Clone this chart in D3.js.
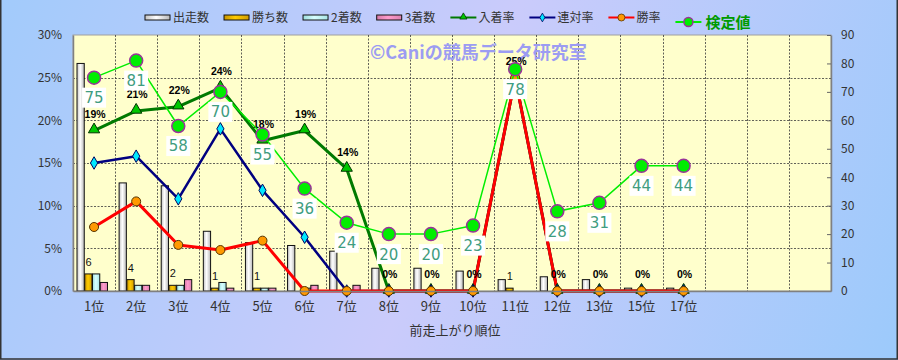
<!DOCTYPE html>
<html>
<head>
<meta charset="utf-8">
<script src="https://cdn.jsdelivr.net/npm/d3@7"></script>
<style>
body { margin: 0; }
svg { display: block; font-family: "Noto Sans CJK JP", sans-serif; }
</style>
</head>
<body>
<svg id="chart" width="898" height="360"></svg>
<script>
// data
const categories = ["1位", "2位", "3位", "4位", "5位", "6位", "7位", "8位", "9位", "10位", "11位", "12位", "13位", "15位", "17位"];
const starts  = [80, 38, 37, 21, 17, 16, 14, 8, 8, 7, 4, 5, 4, 1, 1];
const wins    = [6, 4, 2, 1, 1, 0, 0, 0, 0, 0, 1, 0, 0, 0, 0];
const seconds = [6, 2, 2, 3, 1, 1, 0, 0, 0, 0, 0, 0, 0, 0, 0];
const thirds  = [3, 2, 4, 1, 1, 2, 2, 0, 0, 0, 0, 0, 0, 0, 0];
const placeRate = [18.8, 21.1, 21.6, 23.8, 17.6, 18.8, 14.3, 0, 0, 0, 25, 0, 0, 0, 0];
const top2Rate  = [15.0, 15.8, 10.8, 19.0, 11.8, 6.3, 0, 0, 0, 0, 25, 0, 0, 0, 0];
const winRate   = [7.5, 10.5, 5.4, 4.8, 5.9, 0, 0, 0, 0, 0, 25, 0, 0, 0, 0];
const testValue = [75, 81, 58, 70, 55, 36, 24, 20, 20, 23, 78, 28, 31, 44, 44];
const slots = 18;
const leftTicks = [0, 5, 10, 15, 20, 25, 30];
const rightTicks = [0, 10, 20, 30, 40, 50, 60, 70, 80, 90];

const svg = d3.select("#chart");
const W = 898, H = 360;
const plot = {x0: 73, x1: 831, y0: 35, y1: 291};

const defs = svg.append("defs");
let bg = defs.append("linearGradient").attr("id", "bg")
    .attr("gradientUnits", "userSpaceOnUse")
    .attr("x1", 0).attr("y1", 0).attr("x2", W).attr("y2", H);
bg.append("stop").attr("offset", "0").attr("stop-color", "#a2cbfb");
bg.append("stop").attr("offset", "0.5").attr("stop-color", "#cacbfb");
bg.append("stop").attr("offset", "1").attr("stop-color", "#9ccafb");

function barGrad(id, a, b, c) {
    let g = defs.append("linearGradient").attr("id", id)
        .attr("x1", 0).attr("y1", 0).attr("x2", 1).attr("y2", 0);
    g.append("stop").attr("offset", "0").attr("stop-color", a);
    g.append("stop").attr("offset", "0.45").attr("stop-color", b);
    g.append("stop").attr("offset", "1").attr("stop-color", c);
}
barGrad("gStart", "#c4c4c4", "#ffffff", "#b8b8b8");
barGrad("gWin", "#c89400", "#ffcc00", "#d09c00");
barGrad("gSecond", "#9cdcdc", "#d8ffff", "#a8e4e4");
barGrad("gThird", "#d67aa8", "#ff9ccc", "#dc80b0");

svg.append("rect").attr("width", W).attr("height", H).attr("fill", "url(#bg)");
// frame edges
svg.append("path").attr("d", `M0.75,0 V${H - 1} H${W - 0.75} V0`)
    .attr("fill", "none").attr("stroke", "#333").attr("stroke-width", 1.5);

// scales
let x = d3.scaleBand().domain(d3.range(slots)).range([plot.x0, plot.x1]);
let xs = d3.scaleBand().domain(["starts", "wins", "seconds", "thirds"]).range([4, 35]);
let yL = d3.scaleLinear().domain([0, 30]).range([plot.y1, plot.y0]);
let yR = d3.scaleLinear().domain([0, 90]).range([plot.y1, plot.y0]);
let cx = i => x(i) + x.bandwidth() / 2;

svg.append("rect").attr("x", plot.x0).attr("y", plot.y0)
    .attr("width", plot.x1 - plot.x0).attr("height", plot.y1 - plot.y0)
    .attr("fill", "#ffffcc").attr("stroke", "#a0a0a0");

// grid
let grid = svg.append("g").attr("stroke", "#3a3a3a").attr("stroke-dasharray", "2,1.5").attr("stroke-width", 0.8);
grid.selectAll("line.h").data(leftTicks.slice(1, -1)).enter().append("line")
    .attr("x1", plot.x0).attr("x2", plot.x1)
    .attr("y1", d => Math.round(yL(d)) + 0.5).attr("y2", d => Math.round(yL(d)) + 0.5);
grid.selectAll("line.v").data(d3.range(1, slots)).enter().append("line")
    .attr("x1", d => Math.round(x(d)) + 0.5).attr("x2", d => Math.round(x(d)) + 0.5)
    .attr("y1", plot.y0).attr("y2", plot.y1);

// watermark
svg.append("text").attr("x", 370).attr("y", 59)
    .attr("font-size", 18).attr("font-weight", "bold").attr("fill", "#9c9cf2")
    .text("©Caniの競馬データ研究室");

// bars (right axis scale)
let barSeries = [
    {key: "starts", vals: starts, fill: "url(#gStart)"},
    {key: "wins", vals: wins, fill: "url(#gWin)"},
    {key: "seconds", vals: seconds, fill: "url(#gSecond)"},
    {key: "thirds", vals: thirds, fill: "url(#gThird)"}
];
barSeries.forEach(function (s) {
    svg.append("g").selectAll("rect")
        .data(s.vals.map((v, i) => ({v: v, i: i})).filter(d => d.v > 0))
        .enter().append("rect")
        .attr("x", d => x(d.i) + xs(s.key))
        .attr("width", xs.bandwidth() - 0.5)
        .attr("y", d => yR(d.v))
        .attr("height", d => yR(0) - yR(d.v))
        .attr("fill", s.fill)
        .attr("stroke", "#111").attr("stroke-width", 1);
});

// win count labels
svg.append("g").selectAll("text")
    .data(wins.map((v, i) => ({v: v, i: i})).filter(d => d.v > 0))
    .enter().append("text")
    .attr("x", d => x(d.i) + xs("wins") + xs.bandwidth() / 2)
    .attr("y", d => yR(d.v) - 8)
    .attr("text-anchor", "middle").attr("font-size", 11).attr("fill", "#111")
    .attr("font-family", "Liberation Sans, sans-serif")
    .text(d => d.v);

// rate lines (left axis)
let rateSeries = [
    {vals: placeRate, color: "#007a00", width: 3, shape: "tri"},
    {vals: top2Rate, color: "#000080", width: 2.5, shape: "dia"},
    {vals: winRate, color: "#ff0000", width: 3, shape: "circ"}
];
let lineL = d3.line().x((d, i) => cx(i)).y(d => yL(d));
rateSeries.forEach(function (s) {
    svg.append("path").datum(s.vals).attr("d", lineL)
        .attr("fill", "none").attr("stroke", s.color).attr("stroke-width", s.width)
        .attr("stroke-linejoin", "round");
});
function marker(g, shape, px, py) {
    if (shape === "tri") {
        g.append("path").attr("d", d3.symbol(d3.symbolTriangle, 55)())
            .attr("transform", `translate(${px},${py - 1})`)
            .attr("fill", "#00c800").attr("stroke", "#003300").attr("stroke-width", 1);
    } else if (shape === "dia") {
        g.append("path").attr("d", d3.symbol(d3.symbolDiamond, 45)())
            .attr("transform", `translate(${px},${py})`)
            .attr("fill", "#00e8ff").attr("stroke", "#000060").attr("stroke-width", 1);
    } else if (shape === "circ") {
        g.append("circle").attr("cx", px).attr("cy", py).attr("r", 4.5)
            .attr("fill", "#ff9900").attr("stroke", "#553300").attr("stroke-width", 1);
    } else {
        g.append("circle").attr("cx", px).attr("cy", py).attr("r", 6.5)
            .attr("fill", "#00ee00").attr("stroke", "#993399").attr("stroke-width", 1.5);
    }
}
rateSeries.forEach(function (s) {
    let g = svg.append("g");
    s.vals.forEach((v, i) => marker(g, s.shape, cx(i), yL(v)));
});

// place rate labels
svg.append("g").selectAll("text").data(placeRate).enter().append("text")
    .attr("x", (d, i) => cx(i) + 1).attr("y", d => yL(d) - 13)
    .attr("text-anchor", "middle").attr("font-size", 10.5).attr("font-weight", "bold")
    .attr("font-family", "Liberation Sans, sans-serif").attr("fill", "#000")
    .text(d => Math.round(d) + "%");

// test value line (right axis)
let lineR = d3.line().x((d, i) => cx(i)).y(d => yR(d));
svg.append("path").datum(testValue).attr("d", lineR)
    .attr("fill", "none").attr("stroke", "#00ee00").attr("stroke-width", 1.5);
let tg = svg.append("g");
testValue.forEach((v, i) => marker(tg, "big", cx(i), yR(v)));
let tl = svg.append("g").selectAll("g").data(testValue).enter().append("g")
    .attr("transform", (d, i) => `translate(${cx(i)},${yR(d) + 20})`);
tl.append("rect").attr("x", -12).attr("y", -10).attr("width", 24).attr("height", 20).attr("fill", "#fff");
tl.append("text").attr("text-anchor", "middle").attr("dy", "0.36em")
    .attr("font-size", 15).attr("fill", "#3f9d80")
    .attr("font-family", "DejaVu Sans, sans-serif")
    .text(d => d);

// axes
let axL = svg.append("g").attr("transform", `translate(${plot.x0},0)`)
    .call(d3.axisLeft(yL).tickValues(leftTicks).tickFormat(d => d + "%").tickSize(0).tickPadding(11));
let axR = svg.append("g").attr("transform", `translate(${plot.x1},0)`)
    .call(d3.axisRight(yR).tickValues(rightTicks).tickSizeInner(-4).tickSizeOuter(0).tickPadding(10));
let axB = svg.append("g").attr("transform", `translate(0,${plot.y1})`)
    .call(d3.axisBottom(x).tickFormat(i => categories[i] || "").tickSize(0).tickPadding(11));
[axL, axR, axB].forEach(function (a) {
    a.select(".domain").attr("stroke", "#808080").attr("stroke-width", 1.5);
    a.selectAll(".tick line").attr("stroke", "#666");
    a.selectAll("text").attr("fill", "#333").attr("font-family", "\"Noto Sans CJK JP\", sans-serif");
});
axL.selectAll("text").attr("font-size", 12);
axR.selectAll("text").attr("font-size", 12);
axB.selectAll("text").attr("font-size", 13);

svg.append("text").attr("x", (plot.x0 + plot.x1) / 2 + 3).attr("y", 335)
    .attr("text-anchor", "middle").attr("font-size", 13).attr("fill", "#333")
    .text("前走上がり順位");

// legend
let legendItems = [
    {name: "出走数", type: "bar", fill: "url(#gStart)"},
    {name: "勝ち数", type: "bar", fill: "url(#gWin)"},
    {name: "2着数", type: "bar", fill: "url(#gSecond)"},
    {name: "3着数", type: "bar", fill: "url(#gThird)"},
    {name: "入着率", type: "line", color: "#007a00", shape: "tri"},
    {name: "連対率", type: "line", color: "#000080", shape: "dia"},
    {name: "勝率", type: "line", color: "#ff0000", shape: "circ"},
    {name: "検定値", type: "line", color: "#00ee00", shape: "big"}
];
let lx = 145;
legendItems.forEach(function (it) {
    let g = svg.append("g");
    let big = it.shape === "big";
    let ly = big ? 22 : 17.5;
    if (it.type === "bar") {
        g.append("rect").attr("x", lx).attr("y", ly - 2.5).attr("width", 25).attr("height", 5)
            .attr("fill", it.fill).attr("stroke", "#111");
    } else {
        g.append("line").attr("x1", lx).attr("x2", lx + 26).attr("y1", ly).attr("y2", ly)
            .attr("stroke", it.color).attr("stroke-width", 2);
        if (big) {
            g.append("circle").attr("cx", lx + 13).attr("cy", ly).attr("r", 4.5)
                .attr("fill", "#00ee00").attr("stroke", "#993399").attr("stroke-width", 1.5);
        } else if (it.shape === "tri") {
            g.append("path").attr("d", d3.symbol(d3.symbolTriangle, 22)())
                .attr("transform", `translate(${lx + 13},${ly - 0.5})`)
                .attr("fill", "#00c800").attr("stroke", "#003300").attr("stroke-width", 0.8);
        } else if (it.shape === "dia") {
            g.append("path").attr("d", d3.symbol(d3.symbolDiamond, 22)())
                .attr("transform", `translate(${lx + 13},${ly})`)
                .attr("fill", "#00e8ff").attr("stroke", "#000060").attr("stroke-width", 0.8);
        } else {
            g.append("circle").attr("cx", lx + 13).attr("cy", ly).attr("r", 3.5)
                .attr("fill", "#ff9900").attr("stroke", "#553300").attr("stroke-width", 0.8);
        }
    }
    let t = g.append("text").attr("x", lx + (big ? 30 : 28)).attr("y", ly + (big ? 5.5 : 4.5))
        .attr("font-size", big ? 15 : 12)
        .attr("font-weight", big ? "bold" : "normal")
        .attr("fill", big ? "#009a00" : "#333")
        .text(it.name);
    lx += (big ? 30 : 28) + t.node().getComputedTextLength() + 15;
});
</script>
</body>
</html>
